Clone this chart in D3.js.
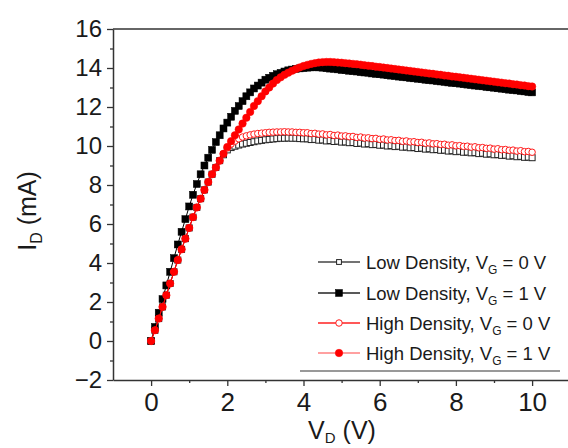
<!DOCTYPE html>
<html><head><meta charset="utf-8">
<script src="https://cdn.jsdelivr.net/npm/d3@7"></script>
<style>body{margin:0;background:#fff}svg{display:block}</style>
</head><body><svg id="c" width="568" height="448"></svg>
<script>
const voltage = [0,0.1,0.2,0.3,0.4,0.5,0.6,0.7,0.8,0.9,1,1.1,1.2,1.3,1.4,1.5,1.6,1.7,1.8,1.9,2,2.1,2.2,2.3,2.4,2.5,2.6,2.7,2.8,2.9,3,3.1,3.2,3.3,3.4,3.5,3.6,3.7,3.8,3.9,4,4.1,4.2,4.3,4.4,4.5,4.6,4.7,4.8,4.9,5,5.1,5.2,5.3,5.4,5.5,5.6,5.7,5.8,5.9,6,6.1,6.2,6.3,6.4,6.5,6.6,6.7,6.8,6.9,7,7.1,7.2,7.3,7.4,7.5,7.6,7.7,7.8,7.9,8,8.1,8.2,8.3,8.4,8.5,8.6,8.7,8.8,8.9,9,9.1,9.2,9.3,9.4,9.5,9.6,9.7,9.8,9.9,10];

const lowDensityVG0 = [0,0.55,1.15,1.75,2.35,2.95,3.55,4.15,4.7,5.25,5.8,6.35,6.85,7.3,7.75,8.15,8.55,8.9,9.25,9.55,9.8,9.92,9.99,10.05,10.1,10.14,10.18,10.22,10.26,10.29,10.32,10.34,10.36,10.38,10.4,10.4,10.41,10.4,10.4,10.38,10.37,10.37,10.33,10.34,10.30,10.31,10.26,10.28,10.23,10.25,10.2,10.21,10.17,10.18,10.13,10.15,10.1,10.12,10.07,10.08,10.04,10.05,10.0,10.02,9.97,9.99,9.94,9.95,9.91,9.92,9.87,9.89,9.84,9.86,9.81,9.82,9.78,9.79,9.74,9.76,9.71,9.73,9.68,9.69,9.65,9.66,9.61,9.63,9.58,9.6,9.55,9.56,9.52,9.53,9.48,9.5,9.45,9.47,9.42,9.43,9.4];

const lowDensityVG1 = [0,0.72,1.45,2.15,2.85,3.55,4.25,4.95,5.6,6.25,6.9,7.5,8.05,8.55,9.0,9.4,9.8,10.2,10.55,10.9,11.2,11.5,11.8,12.05,12.3,12.55,12.75,12.95,13.1,13.25,13.4,13.5,13.6,13.68,13.75,13.82,13.88,13.92,13.96,13.98,14.0,14.02,14.03,14.04,14.03,14.02,13.99,13.97,13.96,13.93,13.9,13.89,13.86,13.84,13.82,13.79,13.77,13.76,13.72,13.7,13.68,13.66,13.63,13.61,13.59,13.56,13.54,13.52,13.49,13.47,13.45,13.43,13.4,13.38,13.36,13.33,13.31,13.29,13.26,13.24,13.22,13.2,13.17,13.15,13.13,13.1,13.08,13.06,13.03,13.01,12.99,12.96,12.94,12.92,12.89,12.87,12.85,12.82,12.8,12.77,12.75];

const highDensityVG0 = [0,0.55,1.15,1.75,2.35,2.95,3.55,4.15,4.7,5.25,5.8,6.35,6.85,7.3,7.75,8.15,8.55,8.9,9.25,9.6,9.9,10.1,10.25,10.37,10.46,10.52,10.57,10.61,10.64,10.66,10.68,10.7,10.71,10.72,10.72,10.73,10.72,10.72,10.7,10.7,10.68,10.68,10.64,10.65,10.61,10.62,10.57,10.59,10.54,10.56,10.51,10.52,10.48,10.49,10.44,10.46,10.41,10.42,10.38,10.39,10.34,10.36,10.31,10.32,10.28,10.29,10.24,10.26,10.21,10.22,10.18,10.19,10.14,10.16,10.11,10.12,10.08,10.09,10.04,10.06,10.01,10.02,9.98,9.99,9.94,9.96,9.91,9.92,9.88,9.89,9.84,9.86,9.81,9.82,9.78,9.79,9.74,9.76,9.71,9.72,9.68];

const highDensityVG1 = [0,0.55,1.15,1.75,2.35,2.95,3.55,4.15,4.7,5.25,5.8,6.35,6.85,7.3,7.75,8.15,8.55,8.9,9.25,9.6,9.95,10.25,10.55,10.85,11.15,11.45,11.75,12.05,12.3,12.55,12.8,13.0,13.2,13.38,13.52,13.65,13.76,13.86,13.95,14.03,14.1,14.16,14.21,14.25,14.28,14.3,14.31,14.31,14.3,14.28,14.27,14.25,14.23,14.21,14.19,14.17,14.14,14.12,14.1,14.07,14.05,14.02,14.0,13.97,13.95,13.92,13.9,13.87,13.85,13.82,13.8,13.77,13.75,13.72,13.7,13.67,13.65,13.62,13.6,13.57,13.55,13.52,13.5,13.47,13.45,13.42,13.4,13.37,13.35,13.32,13.3,13.27,13.25,13.22,13.2,13.17,13.15,13.12,13.1,13.07,13.05];

const xTicks = [0, 2, 4, 6, 8, 10];
const xMinorTicks = [1, 3, 5, 7, 9];
const yTicks = [-2, 0, 2, 4, 6, 8, 10, 12, 14, 16];
const yMinorTicks = [-1, 1, 3, 5, 7, 9, 11, 13, 15];
const seriesNames = ["Low Density", "Low Density", "High Density", "High Density"];
const gateVoltages = ["0", "1", "0", "1"];

const svg = d3.select("#c");
const FONT = "'Liberation Sans', Arial, sans-serif";
const x = d3.scaleLinear().domain([-1, 11]).range([113, 570.2]);
const y = d3.scaleLinear().domain([-2, 16]).range([380, 29]);

const series = [
  {vals: lowDensityVG0, color: "#222", shape: "square", fill: "#fff", size: 6},
  {vals: lowDensityVG1, color: "#000", shape: "square", fill: "#000", size: 7},
  {vals: highDensityVG0, color: "#ff1a1a", shape: "circle", fill: "#fff", size: 6.5},
  {vals: highDensityVG1, color: "#ff0000", shape: "circle", fill: "#ff0000", size: 7.5}
];

function drawMarker(g, s, cx, cy, scale) {
  const sz = s.size * (scale || 1);
  if (s.shape === "square") {
    g.append("rect").attr("x", cx - sz/2).attr("y", cy - sz/2).attr("width", sz).attr("height", sz)
      .attr("fill", s.fill).attr("stroke", s.color).attr("stroke-width", s.fill === "#fff" ? 1 : 0.5);
  } else {
    g.append("circle").attr("cx", cx).attr("cy", cy).attr("r", sz/2)
      .attr("fill", s.fill).attr("stroke", s.color).attr("stroke-width", s.fill === "#fff" ? 1 : 0.5);
  }
}

const plot = svg.append("g");
series.forEach(s => {
  const pts = voltage.map((v, i) => [v, s.vals[i]]);
  plot.append("path").datum(pts)
    .attr("d", d3.line().x(d => x(d[0])).y(d => y(d[1])))
    .attr("fill", "none").attr("stroke", s.color).attr("stroke-width", 1);
  const g = plot.append("g");
  pts.forEach(p => drawMarker(g, s, x(p[0]), y(p[1])));
});

// frame
const axisColor = "#333";
svg.append("line").attr("x1", 113).attr("x2", 570).attr("y1", y(16)).attr("y2", y(16))
  .attr("stroke", axisColor).attr("stroke-width", 1.5);
svg.append("line").attr("x1", x(11)).attr("x2", x(11)).attr("y1", y(16)).attr("y2", y(-2))
  .attr("stroke", axisColor).attr("stroke-width", 1.5);

function styleAxis(g, fs) {
  g.select(".domain").attr("stroke", axisColor).attr("stroke-width", 1.5);
  g.selectAll(".tick line").attr("stroke", axisColor).attr("stroke-width", 1.3);
  g.selectAll("text").attr("font-family", FONT).attr("font-size", fs).attr("fill", "#1a1a1a");
}

const yAxis = svg.append("g").attr("transform", `translate(${x(-1)},0)`)
  .call(d3.axisLeft(y).tickValues(yTicks).tickSize(6).tickPadding(5).tickSizeOuter(0));
styleAxis(yAxis, 24);
const yMinor = svg.append("g").attr("transform", `translate(${x(-1)},0)`)
  .call(d3.axisLeft(y).tickValues(yMinorTicks).tickSize(3).tickFormat("").tickSizeOuter(0));
styleAxis(yMinor, 10);
yMinor.select(".domain").remove();

const xAxis = svg.append("g").attr("transform", `translate(0,${y(-2)})`)
  .call(d3.axisBottom(x).tickValues(xTicks).tickSize(6).tickPadding(7).tickSizeOuter(0));
styleAxis(xAxis, 26);
const xMinor = svg.append("g").attr("transform", `translate(0,${y(-2)})`)
  .call(d3.axisBottom(x).tickValues(xMinorTicks).tickSize(3).tickFormat("").tickSizeOuter(0));
styleAxis(xMinor, 10);
xMinor.select(".domain").remove();

// axis titles
const xt = svg.append("text").attr("x", 342).attr("y", 439).attr("text-anchor", "middle")
  .attr("font-family", FONT).attr("font-size", 25).attr("fill", "#1a1a1a");
xt.append("tspan").text("V");
xt.append("tspan").attr("font-size", 15).attr("dy", 4).text("D");
xt.append("tspan").attr("dy", -4).text(" (V)");

const yt = svg.append("text").attr("transform", "translate(36,211) rotate(-90)").attr("text-anchor", "middle")
  .attr("font-family", FONT).attr("font-size", 25).attr("fill", "#1a1a1a");
yt.append("tspan").text("I");
yt.append("tspan").attr("font-size", 16).attr("dy", 6).text("D");
yt.append("tspan").attr("dy", -6).text(" (mA)");

// legend
const legendRows = [262, 293, 323, 353];
const legendLineColors = ["#444", "#222", "#ff2020", "#ff8080"];
const lg = svg.append("g");
series.forEach((s, i) => {
  const cy = legendRows[i];
  lg.append("line").attr("x1", 318).attr("x2", 360).attr("y1", cy).attr("y2", cy)
    .attr("stroke", legendLineColors[i]).attr("stroke-width", 1.3);
  drawMarker(lg, s, 339, cy, i === 0 ? 0.8 : 1);
  const t = lg.append("text").attr("x", 366).attr("y", cy + 6.5)
    .attr("font-family", FONT).attr("font-size", 18.5).attr("fill", "#1a1a1a");
  t.append("tspan").text(seriesNames[i] + ", V");
  t.append("tspan").attr("font-size", 12).attr("dy", 5).text("G");
  t.append("tspan").attr("dy", -5).text(" = " + gateVoltages[i] + " V");
});
lg.append("line").attr("x1", 300).attr("x2", 560).attr("y1", 371).attr("y2", 371)
  .attr("stroke", "#999").attr("stroke-width", 2);
</script></body></html>
